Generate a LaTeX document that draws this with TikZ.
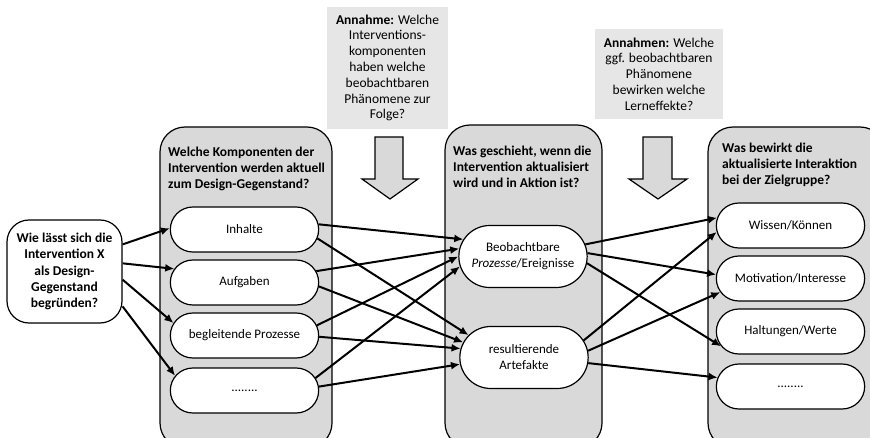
\documentclass[tikz,border=0pt]{standalone}
\usepackage{fontspec}
\setmainfont{Carlito}
\usetikzlibrary{shapes.misc,arrows.meta}
\definecolor{colgrey}{HTML}{D9D9D9}
\definecolor{notegrey}{HTML}{E6E6E6}
\begin{document}
\begin{tikzpicture}[x=1pt,y=-1pt,
    every node/.style={font=\fontsize{13}{16}\selectfont},
    pill/.style={draw, line width=1.2pt, fill=white, rounded rectangle, minimum width=155pt, minimum height=45pt, align=center},
    wide/.style={pill, minimum width=135pt, minimum height=62pt},
    column/.style={draw, line width=1.2pt, fill=colgrey, rounded corners=25pt},
    note/.style={fill=notegrey, inner sep=0pt, align=center, font=\fontsize{13.5}{15.8}\selectfont},
    title/.style={anchor=north west, inner sep=0pt, align=left, font=\bfseries\fontsize{13.5}{16}\selectfont},
    link/.style={-{Latex[length=9pt,width=8pt]}, line width=2pt}]
   \useasboundingbox (0,0) rectangle (870,438);
   \clip (0,0) rectangle (870,438);

   % the three columns
   \draw[column] (160,127) rectangle (332,448);
   \draw[column] (445,125) rectangle (602,448);
   \draw[column] (708,127) rectangle (885,448);

   \node[title] (t1) at (168,147) {Welche Komponenten der\\Intervention werden aktuell\\zum Design-Gegenstand?};
   \node[title] (t2) at (453,146) {Was geschieht, wenn die\\Intervention aktualisiert\\wird und in Aktion ist?};
   \node[title] (t3) at (722,143) {Was bewirkt die\\aktualisierte Interaktion\\bei der Zielgruppe?};

   % assumptions and block arrows
   \node[note, minimum width=121pt, minimum height=122pt] (a1) at (387.5,68) {\textbf{Annahme:} Welche\\Interventions-\\komponenten\\haben welche\\beobachtbaren\\Phänomene zur\\Folge?};
   \node[note, minimum width=128pt, minimum height=90pt] (a2) at (659,74) {\textbf{Annahmen:} Welche\\ggf. beobachtbaren\\Phänomene\\bewirken welche\\Lerneffekte?};
   \draw[line width=1.2pt, fill=colgrey] (375,137) -- (403,137) -- (403,179) -- (418,179) -- (390,199) -- (362,179) -- (375,179) -- cycle;
   \draw[line width=1.2pt, fill=colgrey] (643,137) -- (672,137) -- (672,179) -- (687,179) -- (658,199) -- (629,179) -- (643,179) -- cycle;

   % nodes
   \node[draw, line width=1.2pt, fill=white, rounded corners=22pt, minimum width=115pt, minimum height=103pt, align=center, font=\bfseries\fontsize{13.5}{16.2}\selectfont] (q) at (64.5,271.5) {Wie lässt sich die\\Intervention X\\als Design-\\Gegenstand\\begründen?};

   \node[pill] (inh) at (244.5,229.5) {Inhalte};
   \node[pill] (auf) at (244.5,282.5) {Aufgaben};
   \node[pill] (beg) at (244.5,335.5) {begleitende Prozesse};
   \node[pill] (dt1) at (244.5,390.5) {........};

   \node[wide] (beo) at (523,256.5) {Beobachtbare\\\textit{Prozesse}/Ereignisse};
   \node[wide] (res) at (524,357.5) {resultierende\\Artefakte};

   \node[pill] (wis) at (790.5,225.5) {Wissen/Können};
   \node[pill] (mot) at (790.5,278.5) {Motivation/Interesse};
   \node[pill] (hal) at (790.5,331.5) {Haltungen/Werte};
   \node[pill] (dt2) at (790.5,386.5) {........};

   % connectors
   \draw[link] (q.25) -- (inh.179);
   \draw[link] (q.8) -- (auf.169);
   \draw[link] (q.-8) -- (beg.170);
   \draw[link] (q.-31) -- (dt1.168);

   \draw[link] (inh.4) -- (beo.164);
   \draw[link] (inh.-7) -- (res.158);
   \draw[link] (auf.9) -- (beo.173);
   \draw[link] (auf.-3) -- (res.166);
   \draw[link] (beg.8) -- (beo.180);
   \draw[link] (beg.-1) -- (res.172);
   \draw[link] (dt1.10) -- (beo.189);
   \draw[link] (dt1.3) -- (res.186);

   \draw[link] (beo.11) -- (wis.174);
   \draw[link] (beo.3) -- (mot.177);
   \draw[link] (beo.-6) -- (hal.192);
   \draw[link] (res.16) -- (wis.185);
   \draw[link] (res.6) -- (mot.191);
   \draw[link] (res.-5) -- (dt2.173);
\end{tikzpicture}
\end{document}
